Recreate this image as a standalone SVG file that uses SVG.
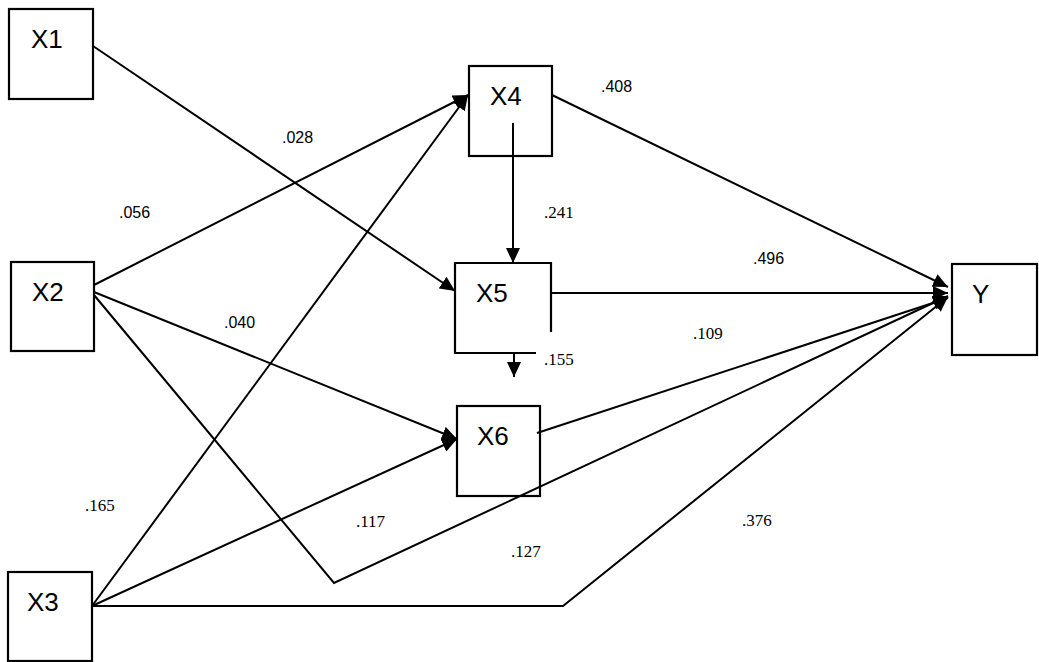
<svg xmlns="http://www.w3.org/2000/svg" width="1039" height="662" viewBox="0 0 1039 662">
<style>
.box{fill:none;stroke:#000;stroke-width:2.2}
.nl{font-family:"Liberation Sans",Arial,sans-serif;font-size:26px;fill:#000}
.ln{fill:none;stroke:#000;stroke-width:2}
.arr{marker-end:url(#ah)}
.ls{font-family:"Liberation Sans",Arial,sans-serif;font-size:16px;fill:#000}
.lt{font-family:"Liberation Serif","Times New Roman",serif;font-size:17px;fill:#000}
</style>
<defs>
<marker id="ah" markerUnits="userSpaceOnUse" markerWidth="16" markerHeight="14" refX="15" refY="7" orient="auto">
<path d="M0,0 L15,7 L0,14 z" fill="#000"/>
</marker>
</defs>
<rect width="1039" height="662" fill="#fff"/>
<g id="connectors">
<line class="ln arr" x1="93" y1="46" x2="455" y2="291"/>
<line class="ln arr" x1="94" y1="285" x2="468" y2="95"/>
<line class="ln arr" x1="94" y1="292" x2="457" y2="439"/>
<polyline class="ln arr" points="94,295 334,583 948,296"/>
<line class="ln arr" x1="92" y1="606" x2="468" y2="95"/>
<line class="ln arr" x1="92" y1="606" x2="457" y2="439"/>
<polyline class="ln arr" points="92,606 563,606 948,297"/>
<line class="ln arr" x1="552" y1="95" x2="948" y2="287"/>
<line class="ln arr" x1="513" y1="123" x2="513" y2="263"/>
<line class="ln arr" x1="551" y1="293" x2="948" y2="293"/>
<line class="ln arr" x1="514" y1="353" x2="514" y2="377"/>
<line class="ln arr" x1="537" y1="433" x2="948" y2="298"/>
</g>
<g id="X1"><rect class="box" x="9" y="9" width="84" height="90"/><text class="nl" x="31" y="48">X1</text></g>
<g id="X2"><rect class="box" x="11" y="262" width="83" height="89"/><text class="nl" x="32" y="301">X2</text></g>
<g id="X3"><rect class="box" x="8" y="572" width="84" height="89"/><text class="nl" x="27" y="611">X3</text></g>
<g id="X4"><rect class="box" x="469" y="66" width="83" height="90"/><text class="nl" x="490" y="105">X4</text></g>
<g id="X5"><path class="box" d="M551,332 V263 H455 V353 H536"/><text class="nl" x="476" y="302">X5</text></g>
<g id="X6"><rect class="box" x="457" y="406" width="83" height="90"/><text class="nl" x="477" y="445">X6</text></g>
<g id="Y"><rect class="box" x="952" y="264" width="85" height="91"/><text class="nl" x="972" y="303">Y</text></g>
<g id="labels">
<text class="ls" x="282" y="143">.028</text>
<text class="ls" x="119" y="218">.056</text>
<text class="ls" x="224" y="328">.040</text>
<text class="ls" x="601" y="92">.408</text>
<text class="ls" x="753" y="264">.496</text>
<text class="lt" x="544" y="218">.241</text>
<text class="lt" x="693" y="339">.109</text>
<text class="lt" x="544" y="365">.155</text>
<text class="lt" x="85" y="511">.165</text>
<text class="lt" x="356" y="527">.117</text>
<text class="lt" x="511" y="557">.127</text>
<text class="lt" x="742" y="526">.376</text>
</g>
</svg>
